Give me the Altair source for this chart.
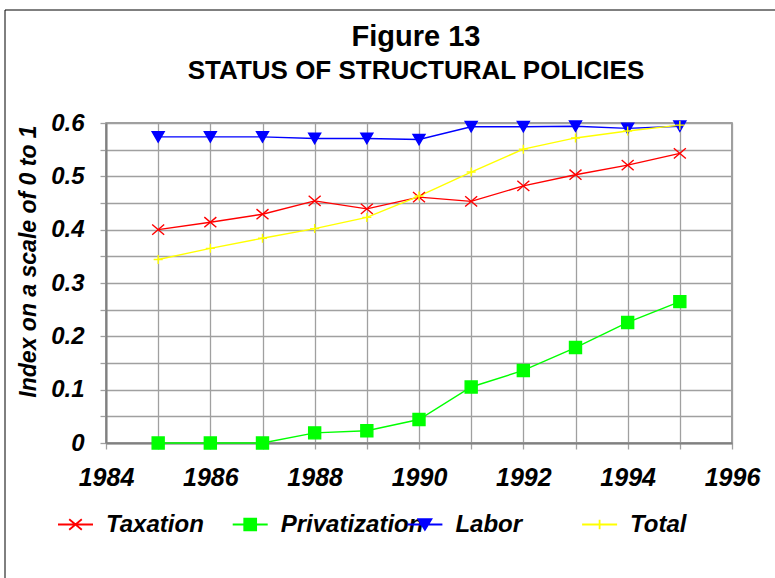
import altair as alt
import pandas as pd

years = [1985, 1986, 1987, 1988, 1989, 1990, 1991, 1992, 1993, 1994, 1995]
taxation = [0.400, 0.414, 0.429, 0.454, 0.439, 0.461, 0.453, 0.482, 0.503, 0.521, 0.543]
privatization = [0.0, 0.0, 0.0, 0.019, 0.023, 0.044, 0.105, 0.136, 0.179, 0.226, 0.265]
labor = [0.574, 0.574, 0.574, 0.571, 0.571, 0.569, 0.593, 0.593, 0.594, 0.590, 0.594]
total = [0.344, 0.365, 0.384, 0.402, 0.423, 0.463, 0.508, 0.551, 0.572, 0.585, 0.596]

series_names = ["Taxation", "Privatization", "Labor", "Total"]
series_colors = ["#ff0000", "#00ff00", "#0000ff", "#ffff00"]
series_fills = ["transparent", "#00ff00", "#0000ff", "transparent"]
marker_shapes = [
    "M-1,-0.85L1,0.85M-1,0.85L1,-0.85",
    "square",
    "triangle-down",
    "M-0.75,0H0.75M0,-0.75V0.75",
]
legend_shapes = [
    "M-1,0H1M-0.36,-0.3L0.36,0.3M-0.36,0.3L0.36,-0.3",
    "M-1,0H1M-0.34,-0.34H0.34V0.34H-0.34Z",
    "M-1,0H1M-0.37,-0.3H0.37L0,0.3Z",
    "M-1,0H1M0,-0.27V0.27",
]
y_ticks = [0.0, 0.05, 0.1, 0.15, 0.2, 0.25, 0.3, 0.35, 0.4, 0.45, 0.5, 0.55, 0.6]
x_ticks = [1984, 1985, 1986, 1987, 1988, 1989, 1990, 1991, 1992, 1993, 1994, 1995, 1996]

rows = []
for name, vals in zip(series_names, [taxation, privatization, labor, total]):
    for yr, v in zip(years, vals):
        rows.append({"year": yr, "series": name, "value": v})
df = pd.DataFrame(rows)

FONT = "Liberation Sans"

x_enc = alt.X(
    "year:Q",
    scale=alt.Scale(domain=[1984, 1996], nice=False, zero=False),
    axis=alt.Axis(
        values=x_ticks, format="d", title=None, labelFlush=False,
        labelExpr="datum.value % 2 == 0 ? toString(datum.value) : ''",
    ),
)
y_enc = alt.Y(
    "value:Q",
    scale=alt.Scale(domain=[0, 0.6], nice=False),
    axis=alt.Axis(
        values=y_ticks, labelFlush=False,
        labelExpr="datum.value == 0 ? '0' : (round(datum.value*100) % 10 == 0 ? format(datum.value, '.1f') : '')",
        title="Index on a scale of 0 to 1",
        titleAngle=270, titleX=-78, titleY=138, titleBaseline="middle",
        titleFontSize=23, titleFontWeight="bold", titleFontStyle="italic",
    ),
)

base = alt.Chart(df)

lines = base.mark_line(strokeWidth=1.4).encode(
    x=x_enc, y=y_enc,
    color=alt.Color("series:N", scale=alt.Scale(domain=series_names, range=series_colors), legend=None),
)

points = base.mark_point(opacity=1, size=144, strokeWidth=1.4).encode(
    x=x_enc, y=y_enc,
    shape=alt.Shape("series:N", scale=alt.Scale(domain=series_names, range=marker_shapes), legend=None),
    stroke=alt.Stroke("series:N", scale=alt.Scale(domain=series_names, range=series_colors), legend=None),
    fill=alt.Fill("series:N", scale=alt.Scale(domain=series_names, range=series_fills), legend=None),
)

legend_layers = []
for i, name in enumerate(series_names):
    leg = alt.Legend(
        title=None, orient="none", legendX=-49 + i * 174.7, legendY=383, direction="horizontal",
        values=[name], symbolSize=1225, symbolStrokeWidth=1.8,
        labelFont=FONT, labelFontSize=24, labelFontWeight="bold", labelFontStyle="italic",
        labelColor="black", labelOffset=12, padding=0, labelLimit=300,
    )
    legend_layers.append(
        base.mark_point(opacity=1, size=1225, strokeWidth=1.8).encode(
            shape=alt.Shape("series:N", scale=alt.Scale(domain=series_names, range=legend_shapes), legend=leg),
            stroke=alt.Stroke("series:N", scale=alt.Scale(domain=series_names, range=series_colors), legend=leg),
            fill=alt.Fill("series:N", scale=alt.Scale(domain=series_names, range=series_fills), legend=leg),
        ).transform_filter("false")
    )

frame = alt.Chart(pd.DataFrame({"a": [0]})).mark_rect(
    fill="transparent", stroke="black", strokeWidth=1
).encode(
    x=alt.value(-101), x2=alt.value(700), y=alt.value(-113), y2=alt.value(480)
)

chart = alt.layer(frame, lines, points, *legend_layers).resolve_scale(
    shape="independent", fill="independent", stroke="independent"
).properties(
    width=626, height=320,
    background="white",
    autosize=alt.AutoSizeParams(type="none"),
    padding={"left": 106, "top": 123, "right": 43, "bottom": 135},
    title=alt.TitleParams(
        "Figure 13", subtitle="STATUS OF STRUCTURAL POLICIES",
        font=FONT, fontSize=29, fontWeight="bold", color="black",
        subtitleFont=FONT, subtitleFontSize=26, subtitleFontWeight="bold", subtitleColor="black",
        subtitlePadding=6, anchor="middle", offset=-74, dx=-3,
    ),
).configure_view(
    stroke="#808080", strokeWidth=1.5
).configure_axis(
    labelFont=FONT, labelFontSize=24, labelFontWeight="bold", labelFontStyle="italic",
    labelColor="black", titleFont=FONT, titleColor="black",
    gridColor="#a0a0a0", gridWidth=1.3, gridOpacity=1,
    domainColor="#808080", domainWidth=2, tickColor="#a0a0a0", tickSize=6, tickWidth=1.3,
).configure_axisX(
    labelPadding=16, labelFontSize=25,
).configure_axisY(
    labelPadding=16,
)

chart.save("out.html", embed_options={"renderer": "svg", "actions": False})
